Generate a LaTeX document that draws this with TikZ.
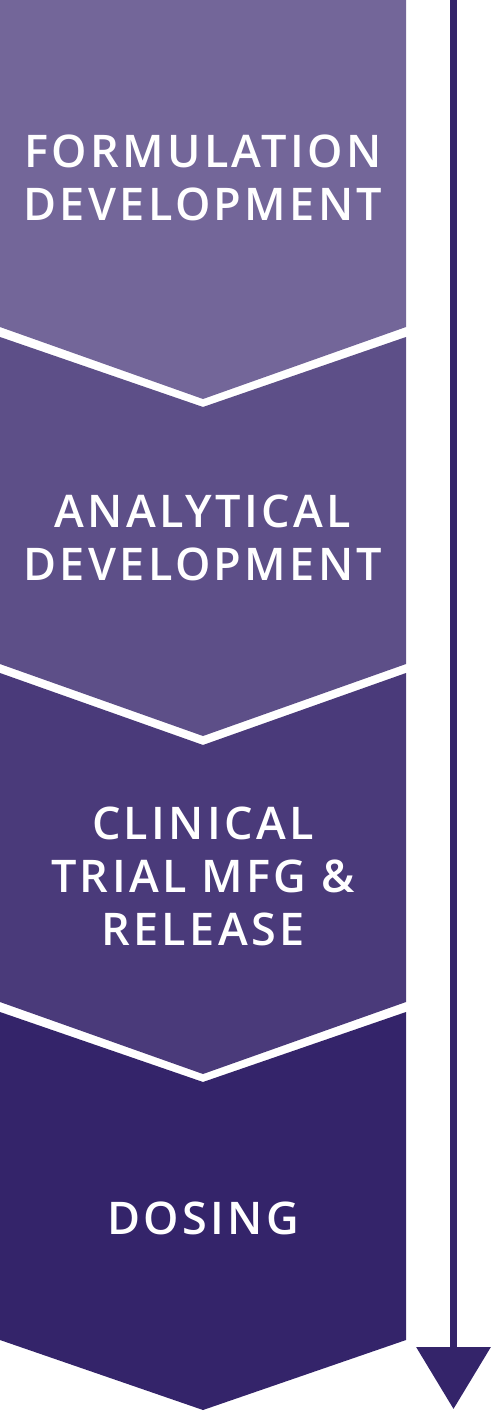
\documentclass[tikz,border=0pt]{standalone}
\usepackage{fontspec}
\newfontfamily\stepfont{Open Sans}[BoldFont={* Semibold}, LetterSpace=7.5]
\usetikzlibrary{positioning,arrows.meta}

\definecolor{formcol}{HTML}{736699}
\definecolor{anacol}{HTML}{5D4F88}
\definecolor{clincol}{HTML}{4A3A7A}
\definecolor{dosecol}{HTML}{34246A}

\tikzset{
  steptext/.style={text=white, align=center, inner sep=0pt,
    font=\stepfont\bfseries\fontsize{45}{53}\selectfont},
  timeline/.style={draw=dosecol, line width=7pt,
    -{Triangle[width=73pt,length=62pt]}}
}

\begin{document}
\begin{tikzpicture}[x=1pt, y=-1pt]
  \useasboundingbox (0,0) rectangle (500,1411);

  % chevron blocks
  \fill[formcol] (0,0) -- (406,0) -- (406,327) -- (203,399) -- (0,327) -- cycle;
  \fill[anacol] (0,337) -- (203,407) -- (406,337) -- (406,664) -- (203,736) -- (0,664) -- cycle;
  \fill[clincol] (0,673) -- (203,745) -- (406,673) -- (406,1002) -- (203,1074) -- (0,1002) -- cycle;
  \fill[dosecol] (0,1012) -- (203,1082) -- (406,1012) -- (406,1340) -- (203,1410) -- (0,1340) -- cycle;

  \node (formulation) [steptext] at (203,178) {FORMULATION\\DEVELOPMENT};
  \node (analytical) [steptext] at (203,538) {ANALYTICAL\\DEVELOPMENT};
  \node (clinical) [steptext] at (203,876) {CLINICAL\\TRIAL MFG \&\\RELEASE};
  \node (dosing) [steptext] at (203,1218) {DOSING};

  \coordinate (timetop) at (453.5,0);
  \coordinate (timeend) at (453.5,1409);
  \draw[timeline] (timetop) -- (timeend);
\end{tikzpicture}
\end{document}
